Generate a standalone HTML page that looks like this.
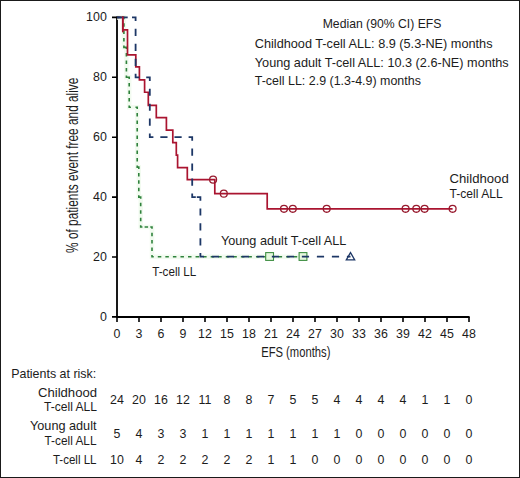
<!DOCTYPE html>
<html><head><meta charset="utf-8"><style>
html,body{margin:0;padding:0;background:#fff;}
#f{position:absolute;left:0;top:0;width:518px;height:476px;border:1px solid #1a1a1a;background:#fff;overflow:hidden}
svg{position:absolute;left:-1px;top:-1px;}
.t{font-family:"Liberation Sans",sans-serif;font-size:12.4px;fill:#1c1c1c;}
.ax{font-family:"Liberation Sans",sans-serif;font-size:14px;fill:#1c1c1c;}
</style></head><body><div id="f">
<svg width="520" height="478" viewBox="0 0 520 478">
<path d="M117,16.4 V317.8 M116.2,317 H469.6" stroke="#000" stroke-width="1.8" fill="none"/>
<path d="M112,316.9 H117 M112,257.0 H117 M112,197.09999999999997 H117 M112,137.19999999999996 H117 M112,77.29999999999995 H117 M112,17.399999999999977 H117 M117.00,317 V322 M139.00,317 V322 M161.00,317 V322 M183.00,317 V322 M205.00,317 V322 M227.00,317 V322 M249.00,317 V322 M271.00,317 V322 M293.00,317 V322 M315.00,317 V322 M337.00,317 V322 M359.00,317 V322 M381.00,317 V322 M403.00,317 V322 M425.00,317 V322 M447.00,317 V322 M469.00,317 V322 " stroke="#000" stroke-width="1.6" fill="none"/>
<text x="106.8" y="320.8" text-anchor="end" class="t">0</text>
<text x="106.8" y="260.9" text-anchor="end" class="t">20</text>
<text x="106.8" y="201.0" text-anchor="end" class="t">40</text>
<text x="106.8" y="141.1" text-anchor="end" class="t">60</text>
<text x="106.8" y="81.2" text-anchor="end" class="t">80</text>
<text x="106.8" y="21.3" text-anchor="end" class="t">100</text>
<text x="117.00" y="338.2" text-anchor="middle" class="t">0</text>
<text x="139.00" y="338.2" text-anchor="middle" class="t">3</text>
<text x="161.00" y="338.2" text-anchor="middle" class="t">6</text>
<text x="183.00" y="338.2" text-anchor="middle" class="t">9</text>
<text x="205.00" y="338.2" text-anchor="middle" class="t">12</text>
<text x="227.00" y="338.2" text-anchor="middle" class="t">15</text>
<text x="249.00" y="338.2" text-anchor="middle" class="t">18</text>
<text x="271.00" y="338.2" text-anchor="middle" class="t">21</text>
<text x="293.00" y="338.2" text-anchor="middle" class="t">24</text>
<text x="315.00" y="338.2" text-anchor="middle" class="t">27</text>
<text x="337.00" y="338.2" text-anchor="middle" class="t">30</text>
<text x="359.00" y="338.2" text-anchor="middle" class="t">33</text>
<text x="381.00" y="338.2" text-anchor="middle" class="t">36</text>
<text x="403.00" y="338.2" text-anchor="middle" class="t">39</text>
<text x="425.00" y="338.2" text-anchor="middle" class="t">42</text>
<text x="447.00" y="338.2" text-anchor="middle" class="t">45</text>
<text x="469.00" y="338.2" text-anchor="middle" class="t">48</text>
<path d="M117,17.40 H123.9 V47.35 H126.4 V77.30 H129.2 V107.25 H137.2 V167.15 H138.8 V197.10 H140.7 V227.05 H152 V256.7 H303" stroke="#f2fbf0" stroke-width="4.5" fill="none"/>
<path d="M117.00,17.40 L118.75,17.40 M122.15,17.40 L123.90,17.40 L123.90,19.15 M123.90,23.14 L123.90,26.64 M123.90,30.62 L123.90,34.12 M123.90,38.11 L123.90,41.61 M123.90,45.60 L123.90,47.35 L126.40,47.35 L126.40,49.10 M126.40,53.09 L126.40,56.59 M126.40,60.57 L126.40,64.07 M126.40,68.06 L126.40,71.56 M126.40,75.55 L126.40,77.30 L129.20,77.30 L129.20,79.05 M129.20,83.04 L129.20,86.54 M129.20,90.52 L129.20,94.02 M129.20,98.01 L129.20,101.51 M129.20,105.50 L129.20,107.25 L130.95,107.25 M135.45,107.25 L137.20,107.25 L137.20,109.00 M137.20,112.99 L137.20,116.49 M137.20,120.47 L137.20,123.97 M137.20,127.96 L137.20,131.46 M137.20,135.45 L137.20,138.95 M137.20,142.94 L137.20,146.44 M137.20,150.42 L137.20,153.92 M137.20,157.91 L137.20,161.41 M137.20,165.40 L137.20,167.15 L138.80,167.15 L138.80,168.90 M138.80,172.89 L138.80,176.39 M138.80,180.37 L138.80,183.87 M138.80,187.86 L138.80,191.36 M138.80,195.35 L138.80,197.10 L140.70,197.10 L140.70,198.85 M140.70,202.84 L140.70,206.34 M140.70,210.32 L140.70,213.82 M140.70,217.81 L140.70,221.31 M140.70,225.30 L140.70,227.05 L142.45,227.05 M144.60,227.05 L148.10,227.05 M150.25,227.05 L152.00,227.05 L152.00,228.80 M152.00,232.71 L152.00,236.21 M152.00,240.12 L152.00,243.62 M152.00,247.54 L152.00,251.04 M152.00,254.95 L152.00,256.70 L153.75,256.70 M157.80,256.70 L161.30,256.70 M165.35,256.70 L168.85,256.70 M172.90,256.70 L176.40,256.70 M180.45,256.70 L183.95,256.70 M188.00,256.70 L191.50,256.70 M195.55,256.70 L199.05,256.70 M203.10,256.70 L206.60,256.70 M210.65,256.70 L214.15,256.70 M218.20,256.70 L221.70,256.70 M225.75,256.70 L229.25,256.70 M233.30,256.70 L236.80,256.70 M240.85,256.70 L244.35,256.70 M248.40,256.70 L251.90,256.70 M255.95,256.70 L259.45,256.70 M263.50,256.70 L267.00,256.70 M271.05,256.70 L274.55,256.70 M278.60,256.70 L282.10,256.70 M286.15,256.70 L289.65,256.70 M293.70,256.70 L297.20,256.70 M301.25,256.70 L303.00,256.70" stroke="#2f823c" stroke-width="1.6" fill="none" stroke-linejoin="miter"/>
<rect x="265.7" y="252.6" width="7.8" height="7.8" fill="#e6f7de" stroke="#3f8f43" stroke-width="1.1"/>
<rect x="299.1" y="252.6" width="7.8" height="7.8" fill="#e6f7de" stroke="#3f8f43" stroke-width="1.1"/>
<path d="M117,17.40 H122.8 V29.88 H127.5 V54.84 H135.8 V66.90 H139.4 V79.80 H144.6 V92.27 H148.3 V105.30 H156.3 V117.70 H166.4 V130.10 H172.8 V142.60 H176.3 V155.20 H177.6 V167.60 H187.3 V179.63 H214.8 V193.66 H267.2 V208.80 H452.6" stroke="#aa1430" stroke-width="1.7" fill="none"/>
<circle cx="213.1" cy="179.62926649999997" r="3.45" stroke="#981a2e" stroke-width="1.3" fill="none"/>
<circle cx="223.8" cy="193.65574999999998" r="3.45" stroke="#981a2e" stroke-width="1.3" fill="none"/>
<circle cx="284" cy="208.79846999999995" r="3.45" stroke="#981a2e" stroke-width="1.3" fill="none"/>
<circle cx="292.8" cy="208.79846999999995" r="3.45" stroke="#981a2e" stroke-width="1.3" fill="none"/>
<circle cx="326.7" cy="208.79846999999995" r="3.45" stroke="#981a2e" stroke-width="1.3" fill="none"/>
<circle cx="405.6" cy="208.79846999999995" r="3.45" stroke="#981a2e" stroke-width="1.3" fill="none"/>
<circle cx="416.3" cy="208.79846999999995" r="3.45" stroke="#981a2e" stroke-width="1.3" fill="none"/>
<circle cx="424.6" cy="208.79846999999995" r="3.45" stroke="#981a2e" stroke-width="1.3" fill="none"/>
<circle cx="452.6" cy="208.79846999999995" r="3.45" stroke="#981a2e" stroke-width="1.3" fill="none"/>
<path d="M117.00,17.40 L120.60,17.40 M132.00,17.40 L135.60,17.40 L135.60,21.00 M135.60,28.77 L135.60,35.97 M135.60,43.75 L135.60,50.95 M135.60,58.72 L135.60,65.92 M135.60,73.70 L135.60,77.30 L139.20,77.30 M146.20,77.30 L149.80,77.30 L149.80,80.90 M149.80,88.67 L149.80,95.87 M149.80,103.65 L149.80,110.85 M149.80,118.62 L149.80,125.82 M149.80,133.60 L149.80,137.20 L153.40,137.20 M160.33,137.20 L167.53,137.20 M174.47,137.20 L181.67,137.20 M188.60,137.20 L192.20,137.20 L192.20,140.80 M192.20,148.57 L192.20,155.77 M192.20,163.55 L192.20,170.75 M192.20,178.52 L192.20,185.72 M192.20,193.50 L192.20,197.10 L195.80,197.10 M196.80,197.10 L200.40,197.10 L200.40,200.70 M200.40,208.40 L200.40,215.60 M200.40,223.30 L200.40,230.50 M200.40,238.20 L200.40,245.40 M200.40,253.10 L200.40,256.70 L204.00,256.70 M211.81,256.70 L219.01,256.70 M226.82,256.70 L234.02,256.70 M241.83,256.70 L249.03,256.70 M256.84,256.70 L264.04,256.70 M271.85,256.70 L279.05,256.70 M286.86,256.70 L294.06,256.70 M301.87,256.70 L309.07,256.70 M316.88,256.70 L324.08,256.70 M331.89,256.70 L339.09,256.70 M346.90,256.70 L350.50,256.70" stroke="#1d3766" stroke-width="1.8" fill="none"/>
<path d="M117,17.40 H127.7" stroke="#1d3766" stroke-width="1.8" fill="none"/>
<path d="M122.8,16.40 V32.37" stroke="#aa1430" stroke-width="1.7" fill="none"/>
<path d="M350.5,252.6 L354.7,259.8 L346.3,259.8 Z" fill="none" stroke="#1d3766" stroke-width="1.3" stroke-linejoin="miter"/>
<text x="322.7" y="27.6" text-anchor="start" class="t" textLength="118.7" lengthAdjust="spacingAndGlyphs">Median (90% CI) EFS</text>
<text x="254.8" y="48.2" text-anchor="start" class="t" textLength="237.7" lengthAdjust="spacingAndGlyphs">Childhood T-cell ALL: 8.9 (5.3-NE) months</text>
<text x="254.8" y="66.6" text-anchor="start" class="t" textLength="253.9" lengthAdjust="spacingAndGlyphs">Young adult T-cell ALL: 10.3 (2.6-NE) months</text>
<text x="254.8" y="85.4" text-anchor="start" class="t" textLength="166.1" lengthAdjust="spacingAndGlyphs">T-cell LL: 2.9 (1.3-4.9) months</text>
<text x="449.5" y="182.6" text-anchor="start" class="t" textLength="59.2" lengthAdjust="spacingAndGlyphs">Childhood</text>
<text x="449.5" y="197.7" text-anchor="start" class="t" textLength="53.2" lengthAdjust="spacingAndGlyphs">T-cell ALL</text>
<text x="220.9" y="244.7" text-anchor="start" class="t" textLength="125.5" lengthAdjust="spacingAndGlyphs">Young adult T-cell ALL</text>
<text x="152.2" y="275.6" text-anchor="start" class="t" textLength="44.1" lengthAdjust="spacingAndGlyphs">T-cell LL</text>
<text x="261.2" y="357.3" text-anchor="start" class="ax" textLength="69.2" lengthAdjust="spacingAndGlyphs">EFS (months)</text>
<text transform="translate(77.8,252.9) rotate(-90)" class="ax" style="font-size:15.6px" textLength="175.3" lengthAdjust="spacingAndGlyphs">% of patients event free and alive</text>
<text x="11.2" y="378" text-anchor="start" class="t" textLength="85" lengthAdjust="spacingAndGlyphs">Patients at risk:</text>
<text x="97" y="396.5" text-anchor="end" class="t" textLength="59" lengthAdjust="spacingAndGlyphs">Childhood</text>
<text x="97" y="411.3" text-anchor="end" class="t" textLength="53" lengthAdjust="spacingAndGlyphs">T-cell ALL</text>
<text x="96.5" y="430.2" text-anchor="end" class="t" textLength="66.5" lengthAdjust="spacingAndGlyphs">Young adult</text>
<text x="96.5" y="445.3" text-anchor="end" class="t" textLength="52" lengthAdjust="spacingAndGlyphs">T-cell ALL</text>
<text x="96.5" y="463.8" text-anchor="end" class="t" textLength="43.6" lengthAdjust="spacingAndGlyphs">T-cell LL</text>
<text x="117.00" y="404.2" text-anchor="middle" class="t">24</text>
<text x="139.00" y="404.2" text-anchor="middle" class="t">20</text>
<text x="161.00" y="404.2" text-anchor="middle" class="t">16</text>
<text x="183.00" y="404.2" text-anchor="middle" class="t">12</text>
<text x="205.00" y="404.2" text-anchor="middle" class="t">11</text>
<text x="227.00" y="404.2" text-anchor="middle" class="t">8</text>
<text x="249.00" y="404.2" text-anchor="middle" class="t">8</text>
<text x="271.00" y="404.2" text-anchor="middle" class="t">7</text>
<text x="293.00" y="404.2" text-anchor="middle" class="t">5</text>
<text x="315.00" y="404.2" text-anchor="middle" class="t">5</text>
<text x="337.00" y="404.2" text-anchor="middle" class="t">4</text>
<text x="359.00" y="404.2" text-anchor="middle" class="t">4</text>
<text x="381.00" y="404.2" text-anchor="middle" class="t">4</text>
<text x="403.00" y="404.2" text-anchor="middle" class="t">4</text>
<text x="425.00" y="404.2" text-anchor="middle" class="t">1</text>
<text x="447.00" y="404.2" text-anchor="middle" class="t">1</text>
<text x="469.00" y="404.2" text-anchor="middle" class="t">0</text>
<text x="117.00" y="438.3" text-anchor="middle" class="t">5</text>
<text x="139.00" y="438.3" text-anchor="middle" class="t">4</text>
<text x="161.00" y="438.3" text-anchor="middle" class="t">3</text>
<text x="183.00" y="438.3" text-anchor="middle" class="t">3</text>
<text x="205.00" y="438.3" text-anchor="middle" class="t">1</text>
<text x="227.00" y="438.3" text-anchor="middle" class="t">1</text>
<text x="249.00" y="438.3" text-anchor="middle" class="t">1</text>
<text x="271.00" y="438.3" text-anchor="middle" class="t">1</text>
<text x="293.00" y="438.3" text-anchor="middle" class="t">1</text>
<text x="315.00" y="438.3" text-anchor="middle" class="t">1</text>
<text x="337.00" y="438.3" text-anchor="middle" class="t">1</text>
<text x="359.00" y="438.3" text-anchor="middle" class="t">0</text>
<text x="381.00" y="438.3" text-anchor="middle" class="t">0</text>
<text x="403.00" y="438.3" text-anchor="middle" class="t">0</text>
<text x="425.00" y="438.3" text-anchor="middle" class="t">0</text>
<text x="447.00" y="438.3" text-anchor="middle" class="t">0</text>
<text x="469.00" y="438.3" text-anchor="middle" class="t">0</text>
<text x="117.00" y="464.1" text-anchor="middle" class="t">10</text>
<text x="139.00" y="464.1" text-anchor="middle" class="t">4</text>
<text x="161.00" y="464.1" text-anchor="middle" class="t">2</text>
<text x="183.00" y="464.1" text-anchor="middle" class="t">2</text>
<text x="205.00" y="464.1" text-anchor="middle" class="t">2</text>
<text x="227.00" y="464.1" text-anchor="middle" class="t">2</text>
<text x="249.00" y="464.1" text-anchor="middle" class="t">2</text>
<text x="271.00" y="464.1" text-anchor="middle" class="t">1</text>
<text x="293.00" y="464.1" text-anchor="middle" class="t">1</text>
<text x="315.00" y="464.1" text-anchor="middle" class="t">0</text>
<text x="337.00" y="464.1" text-anchor="middle" class="t">0</text>
<text x="359.00" y="464.1" text-anchor="middle" class="t">0</text>
<text x="381.00" y="464.1" text-anchor="middle" class="t">0</text>
<text x="403.00" y="464.1" text-anchor="middle" class="t">0</text>
<text x="425.00" y="464.1" text-anchor="middle" class="t">0</text>
<text x="447.00" y="464.1" text-anchor="middle" class="t">0</text>
<text x="469.00" y="464.1" text-anchor="middle" class="t">0</text>
</svg></div></body></html>
